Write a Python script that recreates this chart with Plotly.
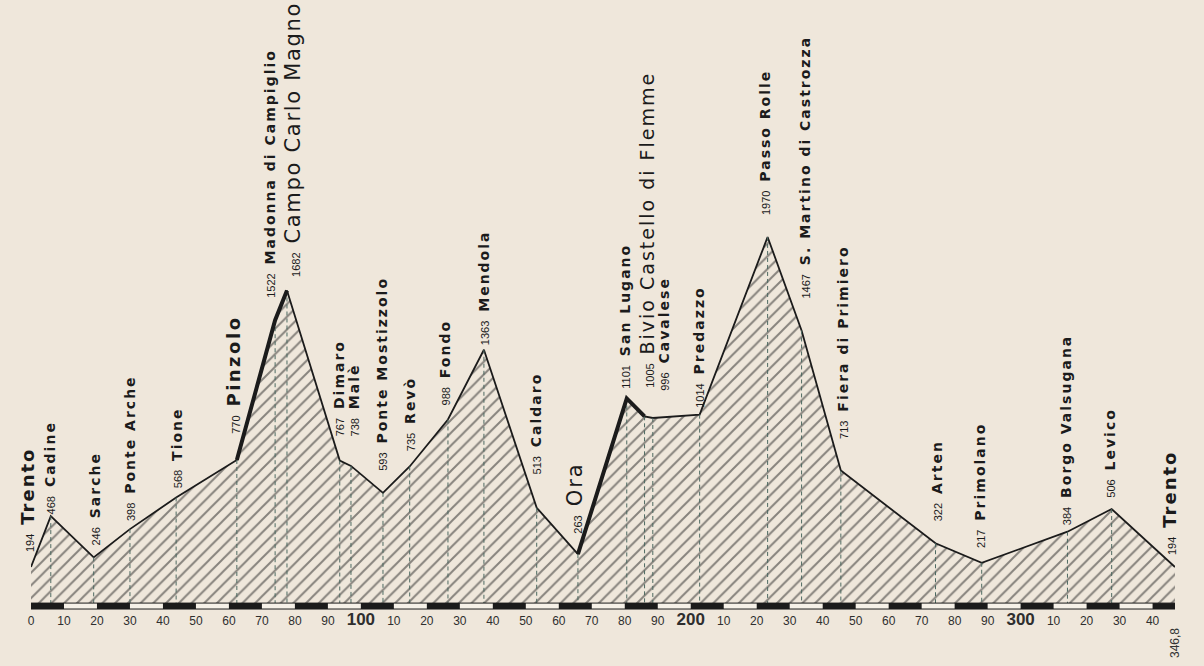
import plotly.graph_objects as go

# ---------------- data ----------------
places = ["Trento", "Cadine", "Sarche", "Ponte Arche", "Tione", "Pinzolo",
          "Madonna di Campiglio", "Campo Carlo Magno", "Dimaro", "Malè",
          "Ponte Mostizzolo", "Revò", "Fondo", "Mendola", "Caldaro", "Ora",
          "San Lugano", "Bivio Castello di Flemme", "Cavalese", "Predazzo",
          "Passo Rolle", "S. Martino di Castrozza", "Fiera di Primiero", "Arten",
          "Primolano", "Borgo Valsugana", "Levico", "Trento"]
km = [0, 6, 19, 30, 44, 62.4, 74, 77.6, 93.6, 97, 106.7, 114.8, 126.4, 137.3,
      153.3, 165.8, 180.6, 186, 188.5, 202.7, 223.3, 233.6, 245.5, 274.2, 288.2,
      314.2, 327.6, 346.8]
altitude = [194, 468, 246, 398, 568, 770, 1522, 1682, 767, 738, 593, 735, 988,
            1363, 513, 263, 1101, 1005, 996, 1014, 1970, 1467, 713, 322, 217,
            384, 506, 194]
total_km = 346.8
total_label = "346,8"

tick_km = list(range(0, 341, 10))
tick_labels = [str(v % 100) if v % 100 else str(v) for v in tick_km]

# climbs drawn with a heavier line (index ranges into the lists above)
steep_segments = [(5, 7), (15, 17)]

# ---------------- styling ----------------
BG = "#efe7db"
INK = "#1b1b1b"
DASH = "#4e6a62"

# label style per place: (name size, weight, letter spacing)
label_style = {
    "Trento": (18, "bold", 2.0),
    "Pinzolo": (18, "bold", 2.5),
    "Campo Carlo Magno": (21, "normal", 1.7),
    "Ora": (21, "normal", 2.0),
    "Bivio Castello di Flemme": (19, "normal", 2.0),
}
default_style = (14, "bold", 2.0)
# per label pixel offsets (dx, gap above point)
label_dx = [-4, -1, 1, 0, 1, -3, -5, 6, -1, 3, -1, 1, -3, 0, -1, -3, -2, 3, 11,
            -1, -2, 3, 2, 1, -1, -2, -2, -6]
label_gap = [13, 0, 10, 6, 7, 24, 20, 12, 22, 28, 20, 13, 12, 3, 31, 19, 8,
             26, 25, 5, 20, 30, 30, 20, 13, 5, 9, 10]

fig = go.Figure()

# hatched profile
fig.add_trace(go.Scatter(
    x=km, y=altitude, mode="lines", fill="tozeroy",
    line=dict(color=INK, width=1.8),
    fillpattern=dict(shape="/", size=9, solidity=0.22, fgcolor="#1f1f1f"),
    fillcolor="rgba(0,0,0,0)",
    cliponaxis=False, hoverinfo="skip"))

# dashed verticals for intermediate places
vx, vy = [], []
for i in range(1, len(km) - 1):
    vx += [km[i], km[i], None]
    vy += [altitude[i], 0, None]
fig.add_trace(go.Scatter(x=vx, y=vy, mode="lines",
                         line=dict(color=DASH, width=1, dash="4px,3px"),
                         hoverinfo="skip"))

# heavy climbs
for a, b in steep_segments:
    fig.add_trace(go.Scatter(x=km[a:b + 1], y=altitude[a:b + 1], mode="lines",
                             line=dict(color=INK, width=4), hoverinfo="skip"))

# distance bar
shapes = [dict(type="rect", xref="x", yref="y", x0=0, x1=total_km, y0=-32, y1=0,
               fillcolor="#f6f1e8", line=dict(color=INK, width=1), layer="above")]
for start in range(0, int(total_km) + 1, 20):
    shapes.append(dict(type="rect", xref="x", yref="y", x0=start,
                       x1=min(start + 10, total_km), y0=-32, y1=0,
                       fillcolor=INK, line=dict(width=0), layer="above"))

NUM_FONT = "Liberation Sans Narrow, Liberation Sans, sans-serif"
annotations = []
for i, (name, k, h) in enumerate(zip(places, km, altitude)):
    fs, fw, ls = label_style.get(name, default_style)
    text = (f"<span style='font-family:{NUM_FONT};font-size:11px;font-weight:normal'>{h}</span>"
            f"  <span style='font-size:{fs}px;font-weight:{fw};letter-spacing:{ls}px'>{name}</span>")
    annotations.append(dict(x=k, y=h, xref="x", yref="y", text=text,
                            showarrow=False, textangle=-90,
                            xanchor="center", yanchor="bottom",
                            xshift=label_dx[i], yshift=label_gap[i],
                            font=dict(family="DejaVu Sans", size=14, color=INK)))
annotations.append(dict(x=total_km, y=0, xref="x", yref="paper", text=total_label,
                        showarrow=False, textangle=-90, xanchor="center",
                        yanchor="top", yshift=-14,
                        font=dict(family=NUM_FONT, size=12, color="#333333")))

tick_text = [f"<b><span style='font-size:17px'>{t}</span></b>" if v % 100 == 0 and v > 0 else t
             for v, t in zip(tick_km, tick_labels)]

fig.update_layout(
    width=1204, height=666,
    margin=dict(l=31, r=29, t=0, b=54),
    paper_bgcolor=BG, plot_bgcolor=BG,
    showlegend=False,
    shapes=shapes, annotations=annotations,
    xaxis=dict(range=[0, total_km], tickvals=tick_km, ticktext=tick_text,
               showgrid=False, zeroline=False, showline=False, ticks="",
               tickfont=dict(family=NUM_FONT, size=12, color="#2e2e2e"),
               fixedrange=True),
    yaxis=dict(range=[-48, 3245], visible=False, fixedrange=True),
)

fig.write_html(
    "out.html",
    config={"displayModeBar": False, "staticPlot": True},
    post_script=f"document.body.style.margin='0';document.body.style.background='{BG}';",
)
